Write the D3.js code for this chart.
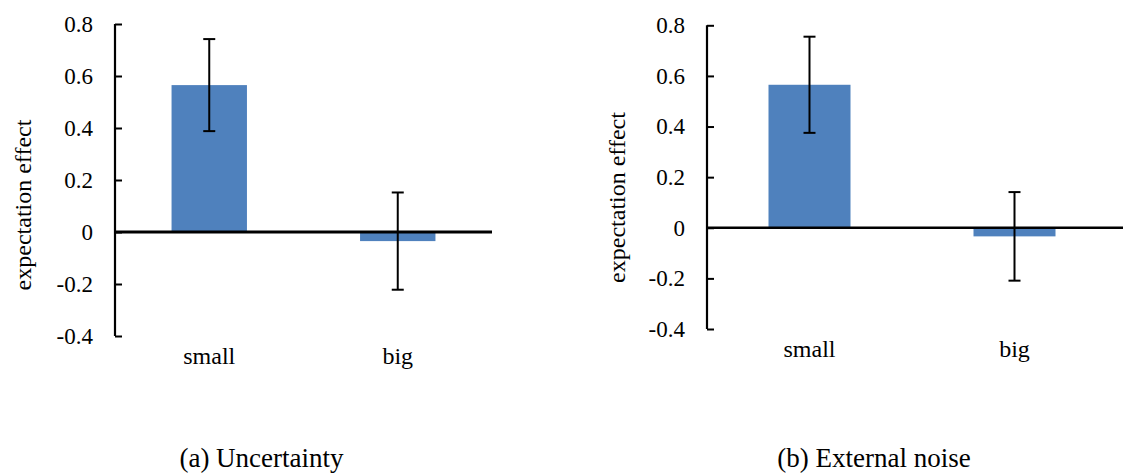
<!DOCTYPE html>
<html>
<head>
<meta charset="utf-8">
<script src="https://cdn.jsdelivr.net/npm/d3@7"></script>
<style>
  html, body { margin: 0; padding: 0; background: #fff; }
  svg { display: block; }
  svg text { font-family: "Times New Roman", "Liberation Serif", Times, "DejaVu Serif", serif; }
</style>
</head>
<body>
<svg id="chart" width="1123" height="474"></svg>
<script>
// Expectation effect by condition, with error bars
const categories = ["small", "big"];
const uncertaintyMeans = [0.565, -0.035];
const uncertaintyErrors = [0.177, 0.187];
const noiseMeans = [0.565, -0.034];
const noiseErrors = [0.19, 0.175];
const yTicks = [-0.4, -0.2, 0, 0.2, 0.4, 0.6, 0.8];
const yDomain = [-0.4, 0.8];
const yLabel = "expectation effect";
const captions = ["(a) Uncertainty", "(b) External noise"];

const svg = d3.select("#chart");
const barColor = "#4f81bd";
const serif = "'Times New Roman', 'Liberation Serif', Times, 'DejaVu Serif', serif";

const panels = [
  { means: uncertaintyMeans, errors: uncertaintyErrors, caption: captions[0],
    x0: 115, x1: 492, lineEnd: 492, yTop: 24, yBottom: 336, zeroWidth: 3,
    labelX: 23, labelY: 205, catBaseline: 364, capX: 261.5 },
  { means: noiseMeans, errors: noiseErrors, caption: captions[1],
    x0: 707, x1: 1117, lineEnd: 1123, yTop: 25.3, yBottom: 329, zeroWidth: 2.5,
    labelX: 617, labelY: 197.5, catBaseline: 357, capX: 874 }
];

function fmt(d) {
  return String(+d.toFixed(1));
}

panels.forEach(p => {
  const g = svg.append("g");
  const x = d3.scaleBand().domain(categories).range([p.x0, p.x1])
    .paddingInner(0.6).paddingOuter(0.3);
  const y = d3.scaleLinear().domain(yDomain).range([p.yBottom, p.yTop]);
  const rows = categories.map((c, i) => ({ c, m: p.means[i], e: p.errors[i] }));

  // bars
  g.selectAll("rect.bar").data(rows).join("rect")
    .attr("class", "bar")
    .attr("x", d => x(d.c))
    .attr("width", x.bandwidth())
    .attr("y", d => y(Math.max(0, d.m)))
    .attr("height", d => Math.abs(y(d.m) - y(0)))
    .attr("fill", barColor);

  // vertical axis with inward ticks
  const axis = d3.axisLeft(y).tickValues(yTicks).tickFormat(fmt)
    .tickSizeInner(-7).tickSizeOuter(0).tickPadding(22);
  const ag = g.append("g").attr("transform", `translate(${p.x0},0)`).call(axis)
    .attr("font-family", serif).attr("font-size", 23);
  ag.select(".domain").attr("stroke", "#000").attr("stroke-width", 2.2)
    .attr("d", `M0,${p.yTop}V${p.yBottom}`);
  ag.selectAll(".tick line").attr("stroke", "#000").attr("stroke-width", 2);
  ag.selectAll(".tick text").attr("fill", "#000");

  // zero line
  g.append("line")
    .attr("x1", p.x0).attr("x2", p.lineEnd)
    .attr("y1", y(0)).attr("y2", y(0))
    .attr("stroke", "#000").attr("stroke-width", p.zeroWidth);

  // error bars
  const eb = g.selectAll("g.err").data(rows).join("g").attr("class", "err");
  const cx = d => x(d.c) + x.bandwidth() / 2;
  eb.append("line")
    .attr("x1", cx).attr("x2", cx)
    .attr("y1", d => y(d.m + d.e)).attr("y2", d => y(d.m - d.e))
    .attr("stroke", "#000").attr("stroke-width", 2);
  [1, -1].forEach(s => {
    eb.append("line")
      .attr("x1", d => cx(d) - 6).attr("x2", d => cx(d) + 6)
      .attr("y1", d => y(d.m + s * d.e)).attr("y2", d => y(d.m + s * d.e))
      .attr("stroke", "#000").attr("stroke-width", 2);
  });

  // category labels
  g.selectAll("text.cat").data(categories).join("text")
    .attr("class", "cat")
    .attr("x", d => x(d) + x.bandwidth() / 2)
    .attr("y", p.catBaseline)
    .attr("text-anchor", "middle")
    .attr("font-size", 24)
    .text(d => d);

  // axis title
  g.append("text")
    .attr("transform", `translate(${p.labelX},${p.labelY}) rotate(-90)`)
    .attr("text-anchor", "middle")
    .attr("dy", "0.32em")
    .attr("font-size", 24)
    .text(yLabel);

  // panel caption
  g.append("text")
    .attr("x", p.capX).attr("y", 467)
    .attr("text-anchor", "middle")
    .attr("font-size", 27)
    .text(p.caption);
});
</script>
</body>
</html>
